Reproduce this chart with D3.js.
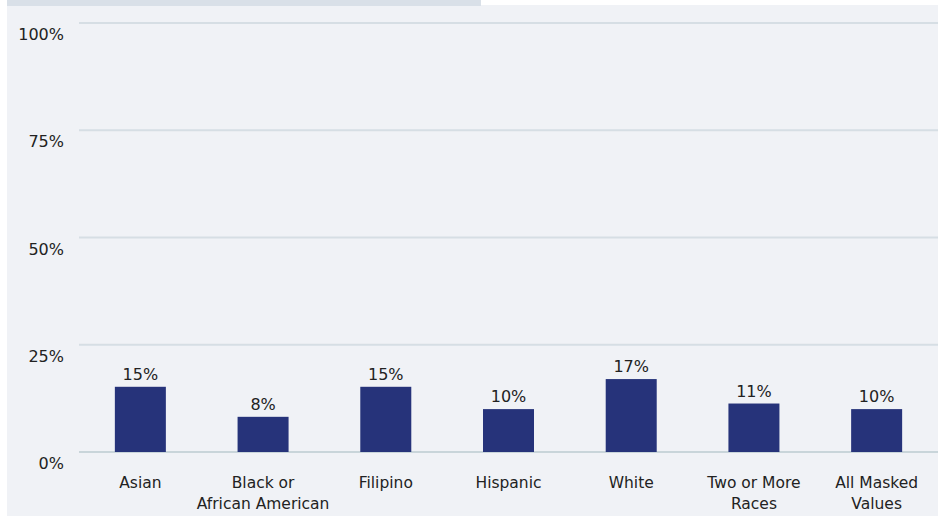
<!DOCTYPE html>
<html><head><meta charset="utf-8">
<script src="https://cdn.jsdelivr.net/npm/d3@7"></script>
<style>
html,body{margin:0;padding:0;background:#fff;}
svg{display:block;font-family:"DejaVu Sans",Arial,sans-serif;}
</style></head>
<body><svg id="c" width="938" height="516"></svg>
<script>
const categories = [["Asian"],["Black or","African American"],["Filipino"],["Hispanic"],["White"],["Two or More","Races"],["All Masked","Values"]];
const values = [15.2, 8.2, 15.2, 10, 17, 11.3, 10];
const valueLabels = ["15%","8%","15%","10%","17%","11%","10%"];
const yTicks = [0,25,50,75,100];
const yTickLabels = ["0%","25%","50%","75%","100%"];

const svg = d3.select("#c");
svg.append("rect").attr("x",7).attr("y",5).attr("width",931).attr("height",511).attr("fill","#f0f2f6");
svg.append("rect").attr("x",7).attr("y",0).attr("width",474).attr("height",6).attr("fill","#d9e0e8");

const y = d3.scaleLinear().domain([0,100]).range([452,23]);
const x = d3.scaleBand().domain(d3.range(categories.length)).range([79,938]).padding(0);
const barW = 51;

const g = svg.append("g");
g.selectAll("line.grid").data(yTicks).join("line")
  .attr("x1",79).attr("x2",938)
  .attr("y1",d=>y(d)).attr("y2",d=>y(d))
  .attr("stroke",d=>d===0?"#c9d5da":"#d6dee4").attr("stroke-width",2);

g.selectAll("text.ylab").data(yTicks).join("text")
  .attr("x",64).attr("y",d=>y(d)+17)
  .attr("text-anchor","end").attr("font-size",16).attr("fill","#222")
  .text((d,i)=>yTickLabels[i]);

g.selectAll("rect.bar").data(values).join("rect")
  .attr("x",(d,i)=>x(i)+x.bandwidth()/2-barW/2)
  .attr("width",barW)
  .attr("y",d=>y(d)).attr("height",d=>y(0)-y(d))
  .attr("fill","#26337a");

g.selectAll("text.vl").data(values).join("text")
  .attr("x",(d,i)=>x(i)+x.bandwidth()/2)
  .attr("y",d=>y(d)-7)
  .attr("text-anchor","middle").attr("font-size",16).attr("fill","#222")
  .text((d,i)=>valueLabels[i]);

const cl = g.selectAll("text.cat").data(categories).join("text")
  .attr("text-anchor","middle").attr("font-size",15.5).attr("fill","#222")
  .attr("transform",(d,i)=>`translate(${x(i)+x.bandwidth()/2},488)`);
cl.selectAll("tspan").data(d=>d).join("tspan")
  .attr("x",0).attr("dy",(d,i)=>i===0?0:21).text(d=>d);
</script></body></html>
